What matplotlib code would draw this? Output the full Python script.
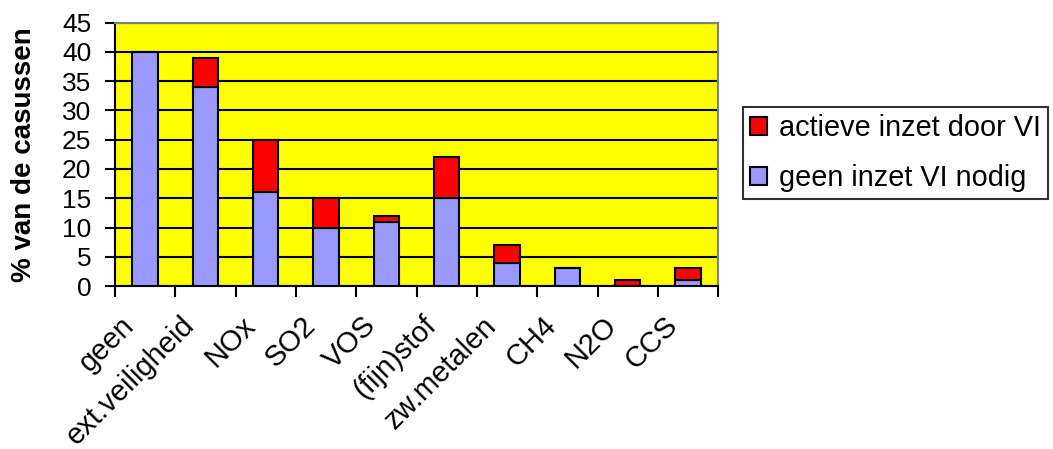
import matplotlib.pyplot as plt
import matplotlib.transforms as mtransforms
import numpy as np

plt.rcParams['font.family'] = ['Liberation Sans', 'DejaVu Sans']

categories = ["geen", "ext.veiligheid", "NOx", "SO2", "VOS", "(fijn)stof",
              "zw.metalen", "CH4", "N2O", "CCS"]
geen_inzet = [40, 34, 16, 10, 11, 15, 4, 3, 0, 1]
actieve_inzet = [0, 5, 9, 5, 1, 7, 3, 0, 1, 2]

fig = plt.figure(figsize=(10.53, 4.49), dpi=100)
ax = fig.add_axes([0.1092, 0.363, 0.5728, 0.5864])
ax.set_facecolor("#FFFF00")

x = np.arange(len(categories))
b1 = ax.bar(x, geen_inzet, width=0.42, color="#9999FF", edgecolor="black",
            linewidth=1.5, label="geen inzet VI nodig", zorder=3)
b2 = ax.bar(x, actieve_inzet, width=0.42, bottom=geen_inzet, color="#FF0000",
            edgecolor="black", linewidth=1.5, label="actieve inzet door VI", zorder=3)

ax.set_xlim(-0.5, len(categories) - 0.5)
ax.set_ylim(0, 45)
ax.set_yticks(range(0, 46, 5))
ax.yaxis.grid(True, color="black", linewidth=1.5, zorder=1)
ax.tick_params(axis="y", labelsize=19, length=7, width=1.5, direction="out", pad=10)

# ticks between categories, labels at centres
ax.set_xticks(np.arange(-0.5, len(categories), 1.0))
ax.set_xticklabels([])
ax.set_xticks(x, minor=True)
ax.set_xticklabels(categories, minor=True, rotation=45, ha="right",
                   va="center", rotation_mode="anchor", fontsize=21)
ax.tick_params(axis="x", which="major", length=8, width=1.5)
ax.tick_params(axis="x", which="minor", length=0, pad=27)
# nudge the rotated labels to the left like the original
shift = mtransforms.ScaledTranslation(-0.15, 0.025, fig.dpi_scale_trans)
for lbl in ax.get_xticklabels(minor=True):
    lbl.set_transform(lbl.get_transform() + shift)

for s in ["left", "bottom"]:
    ax.spines[s].set_linewidth(1.5)
for s in ["top", "right"]:
    ax.spines[s].set_color("#808080")
    ax.spines[s].set_linewidth(1.5)

ax.set_ylabel("% van de casussen", fontsize=20, fontweight="bold", labelpad=18)

leg = fig.legend([b2, b1], ["actieve inzet door VI", "geen inzet VI nodig"],
                 loc="center left", bbox_to_anchor=(0.7055, 0.659),
                 fontsize=20.8, frameon=True, fancybox=False, handlelength=0.6,
                 handleheight=0.6, handletextpad=0.4, borderpad=0.25,
                 labelspacing=0.75, borderaxespad=0)
leg.get_frame().set_edgecolor("black")
leg.get_frame().set_linewidth(1.5)

fig.savefig("out.png", dpi=100)
